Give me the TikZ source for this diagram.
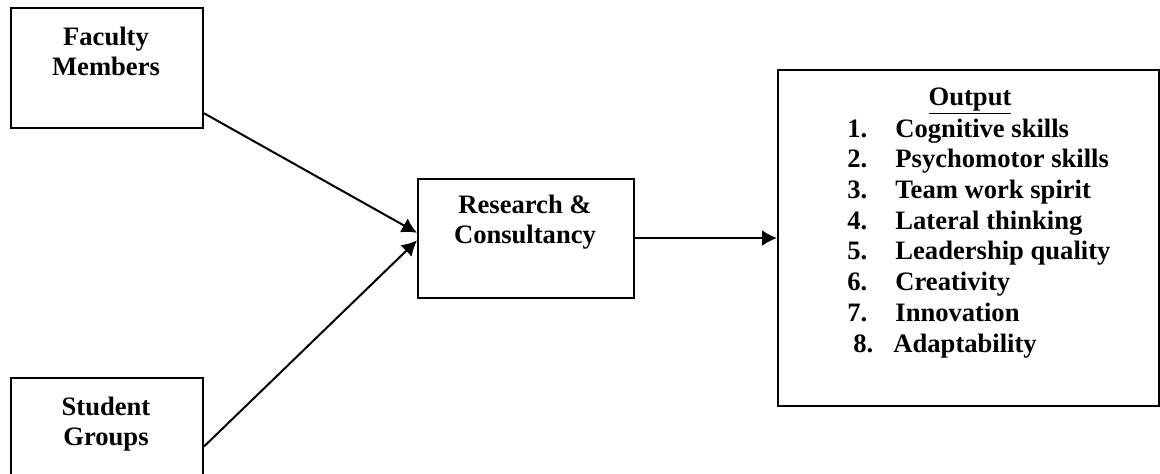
\documentclass[tikz,border=0pt]{standalone}
\usepackage{fontspec}
\setmainfont{Liberation Serif}
\usetikzlibrary{arrows.meta}

\tikzset{
  box/.style={draw, line width=1pt, anchor=north west, inner sep=0pt},
  lbl/.style={font=\bfseries\fontsize{13.3}{15}\selectfont, align=center, inner sep=0pt},
  arr/.style={line width=1pt, -{Latex[length=7.5pt,width=8pt]}}
}

\begin{document}
\begin{tikzpicture}[x=0.5pt, y=-0.5pt]
  \useasboundingbox (0,0) rectangle (1160,473);
  \clip (0,0) rectangle (1160,473);

  % boxes
  \node[box, minimum width=96pt, minimum height=60pt] (fac) at (10,7) {};
  \node[box, minimum width=96pt, minimum height=60pt] (stu) at (10,377) {};
  \node[box, minimum width=108pt, minimum height=59.5pt] (res) at (417,178) {};
  \node[box, minimum width=190.5pt, minimum height=168pt] (out) at (777,69) {};

  % box texts (base = last line)
  \node[lbl, anchor=base] (factxt) at (106,75) {Faculty\\Members};
  \node[lbl, anchor=base] (stutxt) at (106,445) {Student\\Groups};
  \node[lbl, anchor=base] (restxt) at (525,243) {Research \&\\Consultancy};
  \node[lbl, anchor=base] (outtxt) at (970,105) {\underline{Output}};

  % output list
  \foreach \item [count=\n] in {Cognitive skills, Psychomotor skills, Team work spirit,
      Lateral thinking, Leadership quality, Creativity, Innovation} {
    \node[lbl, anchor=base west] (num\n) at (847,{137+30.7*(\n-1)}) {\n.};
    \node[lbl, anchor=base west] (item\n) at (895,{137+30.7*(\n-1)}) {\item};
  }
  \node[lbl, anchor=base west] (num8) at (853,352) {8.};
  \node[lbl, anchor=base west] (item8) at (893,352) {Adaptability};

  % arrows
  \draw[arr] (fac.-25.6) -- (res.177.1);
  \draw[arr] (stu.-5.9) -- (res.181.3);
  \draw[arr] (res.east |- out.west) -- (out.west);
\end{tikzpicture}
\end{document}
